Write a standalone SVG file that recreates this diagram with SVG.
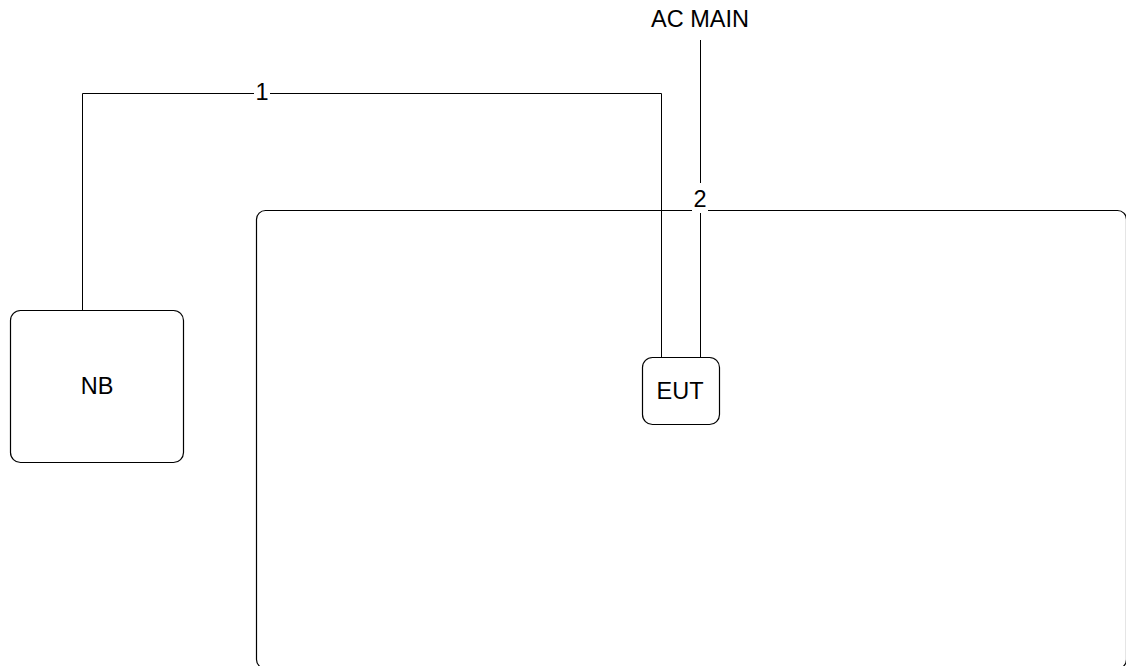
<svg xmlns="http://www.w3.org/2000/svg" width="1126" height="666" viewBox="0 0 1126 666">
<style>
.n{fill:#fff;stroke:#000;stroke-width:1.2}
.c{fill:none;stroke:#000;stroke-width:1}
.t{font-family:"Liberation Sans",Arial,sans-serif;font-size:23.5px;fill:#000;text-anchor:middle}
.bg{fill:#fff}
</style>
<rect width="1126" height="666" fill="#fff"/>
<g id="zone"><rect class="n" x="256.5" y="210.5" width="870" height="458" rx="9"/></g>
<g id="connectors">
<polyline class="c" points="82.5,310 82.5,93.5 661.5,93.5 661.5,357"/>
<line class="c" x1="700.5" y1="40" x2="700.5" y2="357"/>
<rect class="bg" x="254" y="82" width="16" height="20"/>
<text class="t" x="262" y="100">1</text>
<rect class="bg" x="692" y="183" width="16" height="30"/>
<text class="t" x="700" y="207">2</text>
</g>
<g id="nb"><rect class="n" x="10.5" y="310.5" width="173" height="152" rx="10"/><text class="t" x="97" y="394">NB</text></g>
<g id="eut"><rect class="n" x="642.5" y="357.5" width="77" height="67" rx="10"/><text class="t" x="680" y="399">EUT</text></g>
<g id="acmain"><text class="t" x="700" y="27">AC MAIN</text></g>
</svg>
